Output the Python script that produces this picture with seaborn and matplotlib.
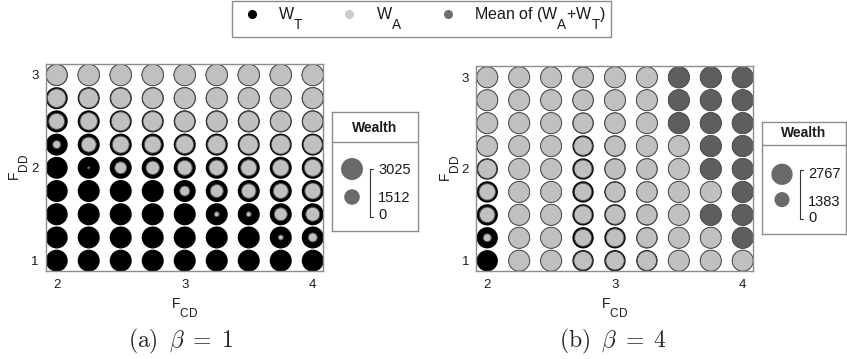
import matplotlib
matplotlib.use("Agg")
import matplotlib.pyplot as plt
import matplotlib._mathtext as mathtext_core
from matplotlib.lines import Line2D
import pandas as pd
import seaborn as sns

sns.set_style("white")
plt.rcParams["font.family"] = ["Liberation Sans", "DejaVu Sans"]
plt.rcParams["mathtext.fontset"] = "custom"
plt.rcParams["mathtext.rm"] = "Liberation Sans"
plt.rcParams["mathtext.it"] = "Liberation Sans:italic"
plt.rcParams["mathtext.bf"] = "Liberation Sans:bold"
# large, deeply lowered subscripts for the W/F labels
mathtext_core.SHRINK_FACTOR = 0.85
mathtext_core.FontConstantsBase.subdrop = 1.15
mathtext_core.FontConstantsBase.sub1 = 1.15

# Grid of parameters
F_CD = [2.0, 2.25, 2.5, 2.75, 3.0, 3.25, 3.5, 3.75, 4.0]
F_DD = [1.0, 1.25, 1.5, 1.75, 2.0, 2.25, 2.5, 2.75, 3.0]
x_ticks = [2, 3, 4]
y_ticks = [1, 2, 3]

# Wealth per cell, rows = F_DD (1 -> 3), columns = F_CD (2 -> 4)
# beta = 1
WT_beta1 = [
    [3025, 3025, 3025, 3025, 3025, 3025, 3025, 3025, 3025],
    [3025, 3025, 3025, 3025, 3025, 3025, 3025, 3025, 3025],
    [3025, 3025, 3025, 3025, 3025, 3025, 3025, 3025, 3025],
    [3025, 3025, 3025, 3025, 3025, 3025, 3025, 3025, 3025],
    [3025, 3025, 3025, 3025, 3025, 3025, 3025, 3025, 3025],
    [3025, 3025, 3025, 3025, 3025, 3025, 3025, 3025, 3025],
    [3025, 3025, 3025, 3025, 3025, 3025, 3025, 3025, 3025],
    [3025, 3025, 3025, 3025, 3025, 3025, 3025, 3025, 3025],
    [3025, 3025, 3025, 3025, 3025, 3025, 3025, 3025, 3025],
]
WA_beta1 = [
    [0, 0, 0, 0, 0, 0, 0, 0, 0],
    [0, 0, 0, 0, 0, 0, 0, 156, 506],
    [0, 0, 0, 0, 0, 156, 156, 1056, 1225],
    [0, 0, 0, 0, 625, 1056, 1314, 1406, 1600],
    [0, 25, 900, 1140, 1400, 1500, 1600, 1700, 1800],
    [400, 1400, 1800, 1800, 2025, 2100, 2250, 2250, 2250],
    [1600, 1914, 2256, 2376, 2500, 2500, 2500, 2600, 2600],
    [2139, 2376, 2500, 2630, 2750, 2750, 2750, 2750, 2750],
    [2756, 2890, 2890, 2890, 2890, 2890, 2890, 2890, 2890],
]
MEAN_beta1 = [
    [0, 0, 0, 0, 0, 0, 0, 0, 0],
    [0, 0, 0, 0, 0, 0, 0, 0, 0],
    [0, 0, 0, 0, 0, 0, 0, 0, 0],
    [0, 0, 0, 0, 0, 0, 0, 0, 0],
    [0, 0, 0, 0, 0, 0, 0, 0, 0],
    [0, 0, 0, 0, 0, 0, 0, 0, 0],
    [0, 0, 0, 0, 0, 0, 0, 0, 0],
    [0, 0, 0, 0, 0, 0, 0, 0, 0],
    [0, 0, 0, 0, 0, 0, 0, 0, 0],
]
# beta = 4
WT_beta4 = [
    [2767, 2767, 2767, 2767, 2767, 2767, 2767, 2767, 2767],
    [2767, 2767, 2767, 2767, 2767, 2767, 2767, 2767, 2767],
    [2767, 2767, 2767, 2767, 2767, 2767, 2767, 2767, 2767],
    [2767, 2767, 2767, 2767, 2767, 2767, 2767, 2767, 2767],
    [2767, 2767, 2767, 2767, 2767, 2767, 2767, 2767, 2767],
    [2767, 2767, 2767, 2767, 2767, 2767, 2767, 2767, 2767],
    [2767, 2767, 2767, 2767, 2767, 2767, 2767, 2767, 2767],
    [2767, 2767, 2767, 2767, 2767, 2767, 2767, 2767, 2767],
    [2767, 2767, 2767, 2767, 2767, 2767, 2767, 2767, 2767],
]
WA_beta4 = [
    [0, 2700, 2700, 2087, 2087, 2319, 2700, 2700, 2700],
    [390, 2700, 2700, 1762, 1976, 2440, 2700, 2700, 2700],
    [1465, 2700, 2700, 1976, 2202, 2440, 2700, 2700, 2700],
    [1660, 2700, 2700, 1868, 2319, 2563, 2700, 2700, 2700],
    [2202, 2700, 2700, 1976, 2440, 2563, 2700, 2700, 2700],
    [2563, 2700, 2700, 2087, 2440, 2700, 2700, 2700, 2700],
    [2700, 2700, 2700, 2440, 2563, 2700, 2700, 2700, 2700],
    [2700, 2700, 2700, 2563, 2700, 2700, 2700, 2700, 2700],
    [2700, 2700, 2700, 2563, 2700, 2700, 2700, 2700, 2700],
]
MEAN_beta4 = [
    [0, 0, 0, 0, 0, 0, 0, 0, 0],
    [0, 0, 0, 0, 0, 0, 0, 0, 2700],
    [0, 0, 0, 0, 0, 0, 0, 2700, 2700],
    [0, 0, 0, 0, 0, 0, 0, 0, 2700],
    [0, 0, 0, 0, 0, 0, 0, 2700, 2700],
    [0, 0, 0, 0, 0, 0, 0, 2700, 2700],
    [0, 0, 0, 0, 0, 0, 2700, 2700, 2700],
    [0, 0, 0, 0, 0, 0, 2700, 2700, 2700],
    [0, 0, 0, 0, 0, 0, 2700, 2700, 2700],
]

legend_beta1 = [3025, 1512, 0]
legend_beta4 = [2767, 1383, 0]

C_T = "black"
C_A = "#c0c0c0"
C_M = "#5e5e5e"
EDGE_A = "#4a4a4a"
FRAME = "#8c8c8c"
TXT = "#1a1a1a"

W, H, DPI = 847, 359, 100
fig = plt.figure(figsize=(W / DPI, H / DPI), dpi=DPI)


def px_axes(x0, y0, x1, y1):
    return fig.add_axes([x0 / W, 1 - y1 / H, (x1 - x0) / W, (y1 - y0) / H])


def to_frame(grid):
    rows = []
    for i, fdd in enumerate(F_DD):
        for j, fcd in enumerate(F_CD):
            rows.append({"F_CD": fcd, "F_DD": fdd, "W": grid[i][j]})
    df = pd.DataFrame(rows)
    return df[df["W"] > 0]


def bubbles(ax, df, smax, wmax, color, edge, lw):
    if df.empty:
        return
    sns.scatterplot(data=df, x="F_CD", y="F_DD", size="W",
                    sizes=(0, smax), size_norm=(0, wmax),
                    color=color, edgecolor=edge, linewidth=lw,
                    legend=False, ax=ax)


def panel(box, lims, WT, WA, MEAN, smax, wmax):
    ax = px_axes(*box)
    bubbles(ax, to_frame(WT), smax, wmax, C_T, "none", 0)
    bubbles(ax, to_frame(WA), smax, wmax, C_A, EDGE_A, 0.7)
    bubbles(ax, to_frame(MEAN), smax, wmax, C_M, "#505050", 0.5)
    ax.set_xlim(lims[0], lims[1])
    ax.set_ylim(lims[2], lims[3])
    ax.set_xticks(x_ticks)
    ax.set_yticks(y_ticks)
    ax.tick_params(length=0, labelsize=9.5, colors=TXT)
    ax.tick_params(axis="x", pad=6)
    ax.tick_params(axis="y", pad=5)
    ax.set_xlabel(r"F$_\mathrm{CD}$", fontsize=10, labelpad=4, color=TXT)
    ax.set_ylabel(r"F$_\mathrm{DD}$", fontsize=10, labelpad=0, color=TXT)
    for s in ax.spines.values():
        s.set_color(FRAME)
        s.set_linewidth(1.0)
    return ax


def wealth_legend(box, values, smax, wmax, title_y, sep_y, circ_x, circ_y,
                  br_x, br_y, lab_x, lab_y):
    x0, y0, x1, y1 = box
    w, h = x1 - x0, y1 - y0
    ax = px_axes(*box)
    ax.set_xlim(0, w)
    ax.set_ylim(h, 0)
    ax.set_xticks([])
    ax.set_yticks([])
    for s in ax.spines.values():
        s.set_color(FRAME)
        s.set_linewidth(1.0)
    ax.axhline(sep_y, color=FRAME, lw=1.0)
    ax.text(w / 2, title_y, "Wealth", ha="center", va="center",
            fontsize=10, fontweight="bold", color=TXT)
    df = pd.DataFrame({"x": [circ_x] * len(values), "y": circ_y, "W": values})
    sns.scatterplot(data=df, x="x", y="y", size="W", sizes=(0, smax),
                    size_norm=(0, wmax), color="#6a6a6a", linewidth=0,
                    legend=False, ax=ax)
    ax.set_xlabel("")
    ax.set_ylabel("")
    ax.plot([br_x + 3, br_x, br_x, br_x + 3],
            [br_y[0], br_y[0], br_y[1], br_y[1]], color="#333333", lw=0.8)
    for v, yy in zip(values, lab_y):
        ax.text(lab_x, yy, f"{v}", ha="left", va="center", fontsize=10.5,
                color=TXT)


# beta = 1
panel((45.7, 64, 323, 270.7), (1.914, 4.08, 0.892, 3.118),
      WT_beta1, WA_beta1, MEAN_beta1, 251, 3025)
wealth_legend((332, 112, 418, 231), legend_beta1, 251, 3025,
              16, 29.5, 20, [57, 85, 101], 38, (57, 105), 46, [58, 86, 103])

# beta = 4
panel((476, 66, 752.7, 270.7), (1.912, 4.078, 0.891, 3.123),
      WT_beta4, WA_beta4, MEAN_beta4, 235, 2767)
wealth_legend((762, 122, 846, 233.5), legend_beta4, 235, 2767,
              11, 23.3, 20, [52.3, 77.6, 94.3], 38, (48.3, 96.6), 46,
              [51.6, 80, 95.6])

# shared legend on top
handles = [
    Line2D([], [], ls="none", marker="o", ms=5.5, mfc=C_T, mec=C_T),
    Line2D([], [], ls="none", marker="o", ms=5.5, mfc="#cccccc", mec="#cccccc"),
    Line2D([], [], ls="none", marker="o", ms=5.5, mfc="#6e6e6e", mec="#6e6e6e"),
]
labels = [r"W$_\mathrm{T}$", r"W$_\mathrm{A}$",
          r"Mean of (W$_\mathrm{A}$+W$_\mathrm{T}$)"]
leg = fig.legend(handles, labels, loc="upper center", ncol=3,
                 bbox_to_anchor=(421.5 / W, 1 - 1 / H), frameon=True,
                 fancybox=False, framealpha=1, edgecolor=FRAME,
                 fontsize=11.5, handlelength=1.9, handletextpad=0.7,
                 columnspacing=1.9, borderpad=0.3, borderaxespad=0)
leg.get_frame().set_linewidth(1.0)
for t in leg.get_texts():
    t.set_color(TXT)

# sub-captions
fig.text(181 / W, 1 - 341 / H, r"$\mathrm{(a)}\;\;\beta\;=\;1$", ha="center",
         va="center", fontsize=17, math_fontfamily="cm")
fig.text(613 / W, 1 - 341 / H, r"$\mathrm{(b)}\;\;\beta\;=\;4$", ha="center",
         va="center", fontsize=17, math_fontfamily="cm")

fig.savefig("out.png", dpi=DPI)
